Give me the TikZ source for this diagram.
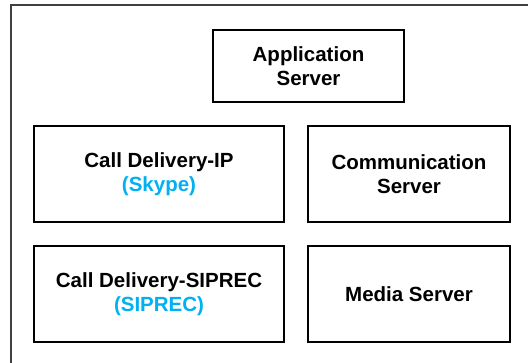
\documentclass[tikz,border=0pt]{standalone}
\usepackage{fontspec}
\setmainfont{Liberation Sans}
\usepackage{tikz}
\usetikzlibrary{positioning,calc}

\definecolor{skyblue}{RGB}{0,176,240}
\definecolor{framegray}{RGB}{64,64,64}

\tikzset{
	unit/.style={draw=black, line width=1.2pt, align=center, inner sep=2pt,
		font=\fontsize{20.5}{24}\selectfont\bfseries},
	wide/.style={unit, minimum width=250pt, minimum height=96pt},
	narrow/.style={unit, minimum width=202pt, minimum height=96pt},
	sub/.style={text=skyblue}
}

\begin{document}
\begin{tikzpicture}[x=1pt, y=-1pt]
	\useasboundingbox (0,0) rectangle (528,362);
	% outer frame (cut off at right and bottom)
	\draw[framegray, line width=2pt] (11,370) -- (11,5) -- (540,5);
	
	% top server
	\node[unit, minimum width=191pt, minimum height=72pt] (app) at (308.5,66) {Application\\Server};
	
	% middle row
	\node[wide] (cdip) at (159,174) {Call Delivery-IP\\{\color{skyblue}(Skype)}};
	\node[narrow] (comm) at (409,174) {Communication\\Server};
	
	% bottom row
	\node[wide] (cdsiprec) at (159,294) {Call Delivery-SIPREC\\{\color{skyblue}(SIPREC)}};
	\node[narrow] (media) at (409,294) {Media Server};
\end{tikzpicture}
\end{document}
